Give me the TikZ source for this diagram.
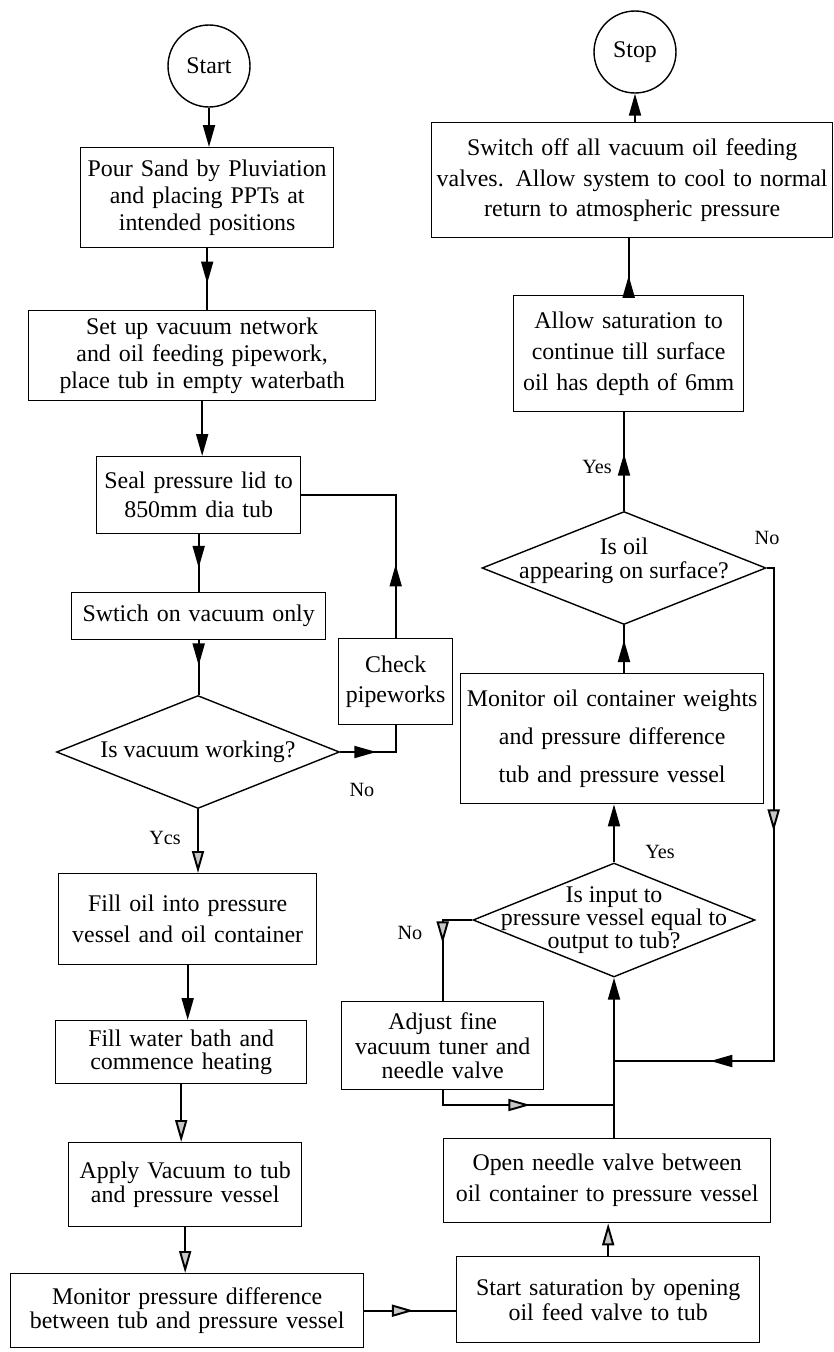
\documentclass[tikz,border=0pt]{standalone}
\usepackage{fontspec}
\setmainfont{Liberation Serif}
\usetikzlibrary{shapes.geometric, arrows.meta, decorations.markings}
\newcommand{\boxfont}[1]{\fontsize{13.6}{#1}\selectfont}
\tikzstyle{proc} = [rectangle, draw=black, line width=0.8pt, inner sep=0pt, align=center, anchor=north west]
\tikzstyle{term} = [circle, draw=black, line width=0.8pt, minimum size=1.64cm, inner sep=0pt, font=\boxfont{16}]
\tikzstyle{decision} = [diamond, draw=black, line width=0.8pt, inner sep=0pt]
\tikzstyle{qtext} = [align=center, inner sep=0pt]
\tikzstyle{flow} = [draw, line width=1.1pt]
\tikzstyle{lbl} = [font=\fontsize{11.5}{13}\selectfont]
\tikzset{
    arrowmid/.style={postaction={decorate, decoration={markings,
        mark=at position #1 with {\arrow{Triangle[length=0.44cm, width=0.24cm]}}}}},
    greymid/.style={postaction={decorate, decoration={markings,
        mark=at position #1 with {\arrow{Triangle[length=0.44cm, width=0.24cm, fill=gray!45]}}}}},
    blackend/.style={-{Triangle[length=0.44cm, width=0.24cm]}},
    greyend/.style={-{Triangle[length=0.44cm, width=0.24cm, fill=gray!45]}}
}

\begin{document}
\begin{tikzpicture}[x=0.02cm, y=-0.02cm]

        \useasboundingbox (0,0) rectangle (833,1352);

        % left column
        \node (start) [term] at (209,66) {Start};
        \node (pour) [proc, text width=5.06cm, minimum height=2cm, font=\boxfont{15.4}] at (80,147) {Pour Sand by Pluviation\\and placing PPTs at\\intended positions};
        \node (setup) [proc, text width=6.94cm, minimum height=1.8cm, font=\boxfont{15.4}] at (28,310) {Set up vacuum network\\and oil feeding pipework,\\place tub in empty waterbath};
        \node (seal) [proc, text width=4.08cm, minimum height=1.54cm, font=\boxfont{16.5}] at (96,456) {Seal pressure lid to\\850mm dia tub};
        \node (swtich) [proc, text width=5.08cm, minimum height=0.94cm, font=\boxfont{16}] at (71,592) {Swtich on vacuum only};
        \node (vacq) [decision, minimum width=5.66cm, minimum height=2.26cm] at (198,752) {};
        \node (vacqtext) [qtext, font=\boxfont{15}] at (vacq) {Is vacuum working?};
        \node (check) [proc, text width=2.28cm, minimum height=1.72cm, font=\boxfont{17}] at (338,638) {Check\\pipeworks};
        \node (fill) [proc, text width=5.16cm, minimum height=1.82cm, font=\boxfont{17.6}] at (58,873) {Fill oil into pressure\\vessel and oil container};
        \node (water) [proc, text width=5.02cm, minimum height=1.26cm, font=\boxfont{13.2}] at (55,1020) {Fill water bath and\\commence heating};
        \node (apply) [proc, text width=4.66cm, minimum height=1.68cm, font=\boxfont{13.4}] at (68,1142) {Apply Vacuum to tub\\and pressure vessel};
        \node (monp) [proc, text width=7.06cm, minimum height=1.48cm, font=\boxfont{13.4}] at (10,1273) {Monitor pressure difference\\between tub and pressure vessel};

        % right column
        \node (stop) [term] at (635,52) {Stop};
        \node (switchoff) [proc, text width=8.02cm, minimum height=2.3cm, font=\boxfont{17.6}] at (431,122) {Switch off all vacuum oil feeding\\valves. Allow system to cool to normal\\return to atmospheric pressure};
        \node (allow) [proc, text width=4.6cm, minimum height=2.32cm, font=\boxfont{17.6}] at (513,295) {Allow saturation to\\continue till surface\\oil has depth of 6mm};
        \node (oilq) [decision, minimum width=5.68cm, minimum height=2.26cm] at (624,568) {};
        \node (oilqtext) [qtext, font=\boxfont{13.4}, yshift=0.14cm] at (oilq) {Is oil\\appearing on surface?};
        \node (monw) [proc, text width=6.06cm, minimum height=2.6cm, font=\boxfont{21.6}] at (460,673) {Monitor oil container weights\\and pressure difference\\tub and pressure vessel};
        \node (eqq) [decision, minimum width=5.64cm, minimum height=2.28cm] at (614,920) {};
        \node (eqqtext) [qtext, font=\boxfont{13.2}] at (eqq) {Is input to\\pressure vessel equal to\\output to tub?};
        \node (adjust) [proc, text width=4.04cm, minimum height=1.76cm, font=\boxfont{14}] at (341,1001) {Adjust fine\\vacuum tuner and\\needle valve};
        \node (openv) [proc, text width=6.54cm, minimum height=1.68cm, font=\boxfont{17.6}] at (443,1138) {Open needle valve between\\oil container to pressure vessel};
        \node (startsat) [proc, text width=6.06cm, minimum height=1.72cm, font=\boxfont{14.2}] at (456,1256) {Start saturation by opening\\oil feed valve to tub};

        \coordinate (j1) at (614,1061);
        \coordinate (j2) at (614,1105);

        % labels
        \node (no1) [lbl] at (362,790) {No};
        \node (ycs) [lbl] at (165,838) {Ycs};
        \node (yes1) [lbl] at (597,467) {Yes};
        \node (no2) [lbl] at (767,538) {No};
        \node (yes2) [lbl] at (660,852) {Yes};
        \node (no3) [lbl] at (410,933) {No};

        % connectors, left column
        \draw[flow, blackend] (start.south) -- (start.south |- pour.north);
        \draw[flow, arrowmid=0.57] (pour.south) -- (pour.south |- setup.north);
        \draw[flow, blackend] (setup.south) -- (setup.south |- seal.north);
        \draw[flow, arrowmid=0.58] (seal.south) -- (seal.south |- swtich.north);
        \draw[flow, arrowmid=0.46] (swtich.south) -- (swtich.south |- vacq.north);
        \draw[flow, arrowmid=0.44] (vacq.east) -| (check.south);
        \draw[flow, arrowmid=0.31] (check.north) |- (seal.east);
        \draw[flow, greyend] (vacq.south) -- (vacq.south |- fill.north);
        \draw[flow, blackend] (fill.south) -- (fill.south |- water.north);
        \draw[flow, greyend] (water.south) -- (water.south |- apply.north);
        \draw[flow, greyend] (apply.south) -- (apply.south |- monp.north);
        \draw[flow, greymid=0.54] (monp.east) -- (monp.east -| startsat.west);

        % connectors, right column
        \draw[flow, greyend] (startsat.north) -- (startsat.north |- openv.south);
        \draw[flow, blackend] (openv.north -| eqq.south) -- (eqq.south);
        \draw[flow, greymid=0.48] (eqq.west) -| (adjust.north);
        \draw[flow, greymid=0.55] (adjust.south) |- (j2);
        \draw[flow, blackend] (eqq.north) -- (eqq.north |- monw.south);
        \draw[flow, arrowmid=0.69] (oilq.south |- monw.north) -- (oilq.south);
        \draw[flow, greymid=0.41, arrowmid=0.854] (oilq.east) -- ++(7,0) |- (j1);
        \draw[flow, arrowmid=0.58] (oilq.north) -- (oilq.north |- allow.south);
        \draw[flow, arrowmid=0.34] (allow.north) -- (allow.north |- switchoff.south);
        \draw[flow, blackend] (stop.south |- switchoff.north) -- (stop.south);

    \end{tikzpicture}
\end{document}
